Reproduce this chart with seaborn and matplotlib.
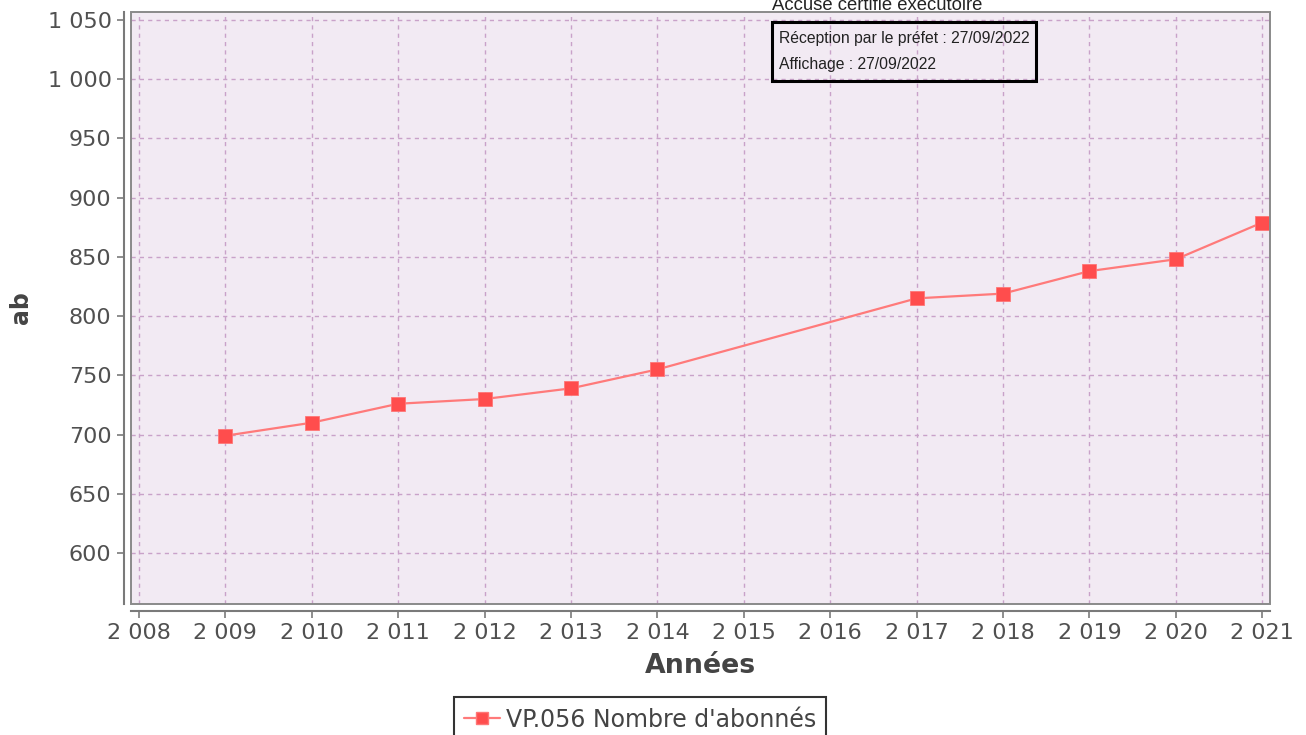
import matplotlib
matplotlib.use("Agg")
import matplotlib.pyplot as plt
import matplotlib.ticker as mticker
from matplotlib.patches import Rectangle
import seaborn as sns
import pandas as pd

# Subscriber counts per year (no data for 2015 and 2016)
years = [2009, 2010, 2011, 2012, 2013, 2014, 2017, 2018, 2019, 2020, 2021]
subscribers = [699, 710, 726, 730, 739, 755, 815, 819, 838, 848, 879]
series_name = "VP.056 Nombre d'abonnés"
x_ticks = list(range(2008, 2022))
y_ticks = list(range(600, 1051, 50))

df = pd.DataFrame({"Années": years, "ab": subscribers, "série": series_name})

sns.set_theme(style="white")
plt.rcParams["font.family"] = ["DejaVu Sans"]

fig = plt.figure(figsize=(13.06, 7.35), dpi=100)
ax = fig.add_axes([131 / 1306, 1 - 604 / 735, (1270 - 131) / 1306, (604 - 12) / 735])
ax.set_facecolor("#F2EAF3")

line_color = "#FF5555"
sns.lineplot(data=df, x="Années", y="ab", hue="série", palette=[line_color],
             marker="s", markersize=10, markeredgewidth=0.6,
             markeredgecolor="#FF7777", linewidth=1.6, ax=ax, legend=False)
for ln in ax.lines:
    ln.set_color("#FF7A7A")
    ln.set_markerfacecolor("#FF4D4D")

ax.set_xlim(2007.907, 2021.09)
ax.set_ylim(556.9, 1056.8)
ax.set_xticks(x_ticks)
ax.set_yticks(y_ticks)


def spaced(v, pos):
    s = f"{int(round(v)):,}"
    return s.replace(",", " ")


ax.xaxis.set_major_formatter(mticker.FuncFormatter(spaced))
ax.yaxis.set_major_formatter(mticker.FuncFormatter(spaced))

ax.grid(True, color="#C9A2C9", linestyle=(0, (3, 3)), linewidth=1.0)

for side in ["top", "right"]:
    ax.spines[side].set_visible(False)
for side in ["left", "bottom"]:
    ax.spines[side].set_position(("outward", 5))
    ax.spines[side].set_color("#7A7A7A")
    ax.spines[side].set_linewidth(1.5)

# Frame around the plotting area
ax.add_patch(Rectangle((0, 0), 1, 1, transform=ax.transAxes, fill=False,
                       edgecolor="#8A8A8A", linewidth=1.4, clip_on=False, zorder=5))

ax.tick_params(axis="both", which="major", direction="out", length=5, width=1.2,
               color="#7A7A7A", labelsize=16, labelcolor="#505050",
               left=True, bottom=True, pad=4)

ax.set_xlabel("Années", fontsize=19.3, fontweight="bold", color="#444444")
ax.set_ylabel("ab", fontsize=17, fontweight="bold", color="#444444")
ax.xaxis.set_label_coords(0.5, -0.082)
ax.yaxis.set_label_coords(-0.086, 0.5)

# Certification stamp
fig.text(772 / 1306, 1 - 6 / 735, "Accusé certifié exécutoire", fontsize=13.3,
         family="Liberation Sans", color="#222222", va="center", ha="left")
fig.patches.append(Rectangle((772 / 1306, 1 - 81 / 735), (1036 - 772) / 1306, 59 / 735,
                             transform=fig.transFigure, facecolor="none",
                             edgecolor="black", linewidth=2.2, zorder=10))
fig.text(779 / 1306, 1 - 39 / 735, "Réception par le préfet : 27/09/2022", fontsize=11.3,
         family="Liberation Sans", color="#222222", va="center", ha="left")
fig.text(779 / 1306, 1 - 64 / 735, "Affichage : 27/09/2022", fontsize=11.3,
         family="Liberation Sans", color="#222222", va="center", ha="left")

handle = plt.Line2D([], [], color="#FF7A7A", marker="s", markersize=9,
                    markerfacecolor="#FF4D4D", markeredgecolor="#FF7777", linewidth=1.6)
leg = fig.legend([handle], [series_name], loc="upper center",
                 bbox_to_anchor=(640 / 1306, 1 - 697 / 735), frameon=True,
                 fancybox=False, edgecolor="black", fontsize=17, handlelength=1.5,
                 handletextpad=0.25, borderpad=0.45, borderaxespad=0,
                 labelcolor="#444444")
leg.get_frame().set_linewidth(1.5)

fig.savefig("out.png", dpi=100, facecolor="white")
